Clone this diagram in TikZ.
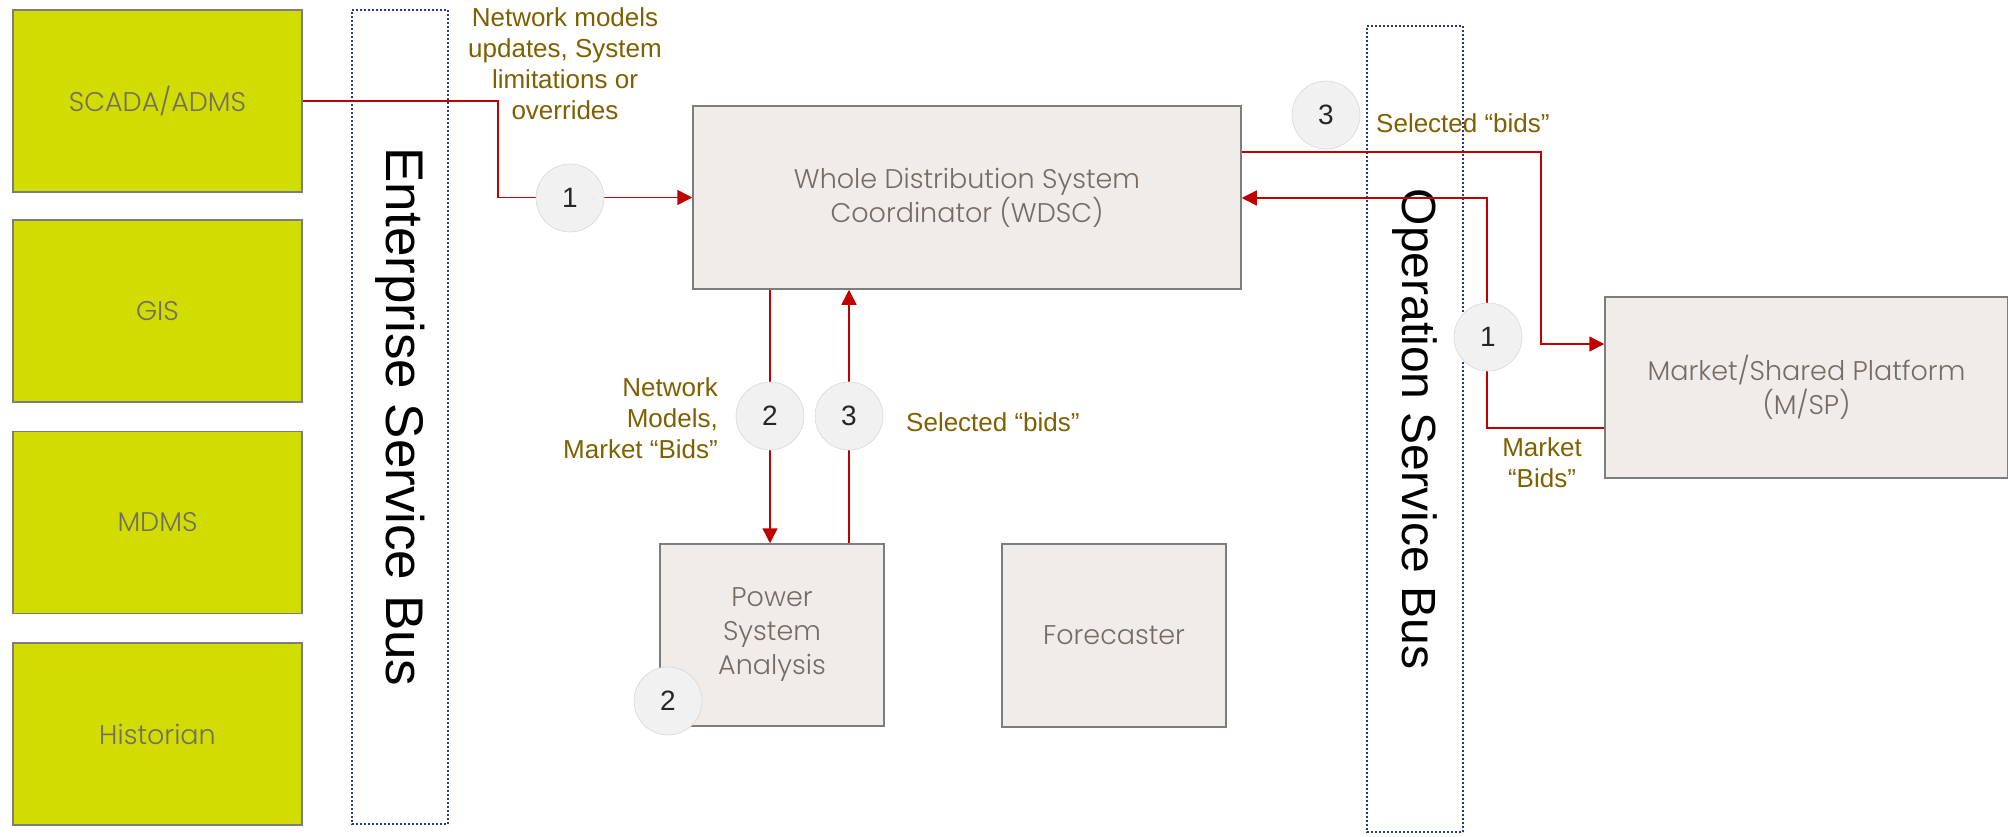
\documentclass[tikz,border=0pt]{standalone}
\usepackage{fontspec}
\setmainfont{Liberation Sans}
\newfontfamily\gothic{Poppins Light}
\usetikzlibrary{arrows.meta,calc}
\definecolor{limefill}{RGB}{209,220,0}
\definecolor{boxborder}{RGB}{125,125,125}
\definecolor{boxfill}{RGB}{240,236,233}
\definecolor{boxtext}{RGB}{118,108,100}
\definecolor{linered}{RGB}{192,0,0}
\definecolor{labelolive}{RGB}{127,96,0}
\definecolor{busblue}{RGB}{40,55,140}
\definecolor{circfill}{RGB}{241,241,241}
\definecolor{circborder}{RGB}{215,215,215}
\tikzset{
  greenbox/.style={draw=boxborder, line width=1.5pt, fill=limefill, minimum width=289pt, minimum height=182pt, inner sep=0pt, font=\gothic\fontsize{27}{34}\selectfont, text=boxtext, align=center},
  graybox/.style={draw=boxborder, line width=1.5pt, fill=boxfill, inner sep=0pt, font=\gothic\fontsize{27}{34}\selectfont, text=boxtext, align=center},
  busbox/.style={draw=busblue, line width=2pt, dash pattern=on 2pt off 2pt, inner sep=0pt, rotate=-90, font=\fontsize{53}{60}\selectfont, text=black},
  conn/.style={draw=linered, line width=1.5pt},
  arr/.style={conn, -{Triangle[length=15pt,width=15pt]}},
  numcirc/.style={circle, fill=circfill, draw=circborder, line width=0.6pt, minimum size=68pt, inner sep=0pt, font=\fontsize{28}{30}\selectfont, text=black!85},
  lbl/.style={text=labelolive, font=\fontsize{26}{31}\selectfont, align=center, inner sep=0pt}
}
\begin{document}
\begin{tikzpicture}[x=1pt,y=-1pt]
\useasboundingbox (0,0) rectangle (2008,836);
% service buses
\node[busbox, minimum width=814pt, minimum height=96pt] (esb) at (400,417) {Enterprise Service Bus};
\node[busbox, minimum width=806pt, minimum height=96pt, font=\fontsize{48}{56}\selectfont] (osb) at (1415,429) {Operation Service Bus};
% left systems
\node[greenbox] (scada) at (157.5,101) {SCADA/ADMS};
\node[greenbox] (gis) at (157.5,311) {GIS};
\node[greenbox] (mdms) at (157.5,522.5) {MDMS};
\node[greenbox] (hist) at (157.5,734) {Historian};
% main boxes
\node[graybox, minimum width=548pt, minimum height=183pt] (wdsc) at (967,197.5) {Whole Distribution System\\Coordinator (WDSC)};
\node[graybox, minimum width=224pt, minimum height=182pt] (psa) at (772,635) {Power\\System\\Analysis};
\node[graybox, minimum width=224pt, minimum height=183pt] (fore) at (1114,635.5) {Forecaster};
\node[graybox, minimum width=403pt, minimum height=181pt] (msp) at (1806.5,387.5) {Market/Shared Platform\\(M/SP)};
% bend points
\coordinate (k1) at (498,197.5);
\coordinate (k4a) at (1541,152);
\coordinate (k4b) at (1541,344);
\coordinate (k5a) at (1487,428);
\coordinate (k5b) at (1487,198);
\coordinate (x2) at (770,0);
\coordinate (x3) at (849,0);
% connectors
\draw[arr] (scada.east) -| (k1) -- (wdsc.west);
\draw[arr] (wdsc.south -| x2) -- (psa.north -| x2);
\draw[arr] (psa.north -| x3) -- (wdsc.south -| x3);
\draw[arr] (wdsc.east |- k4a) -- (k4a) -- (k4b) -- (msp.west |- k4b);
\draw[arr] (msp.west |- k5a) -- (k5a) -- (k5b) -- (wdsc.east |- k5b);
% step circles
\node[numcirc] (c1a) at (570,198) {1};
\node[numcirc] (c2a) at (770,416) {2};
\node[numcirc] (c3a) at (849,416) {3};
\node[numcirc] (c2b) at (668,701) {2};
\node[numcirc] (c3b) at (1326,115) {3};
\node[numcirc] (c1b) at (1488,337) {1};
% labels
\node[lbl] (l1) at (565,64) {Network models\\updates, System\\limitations or\\overrides};
\node[lbl, align=right, anchor=east] (l2) at (718,418) {Network\\Models,\\Market “Bids”};
\node[lbl, anchor=west] (l3) at (906,422) {Selected “bids”};
\node[lbl, anchor=west] (l4) at (1376,123) {Selected “bids”};
\node[lbl] (l5) at (1542,463) {Market\\“Bids”};
\end{tikzpicture}
\end{document}
